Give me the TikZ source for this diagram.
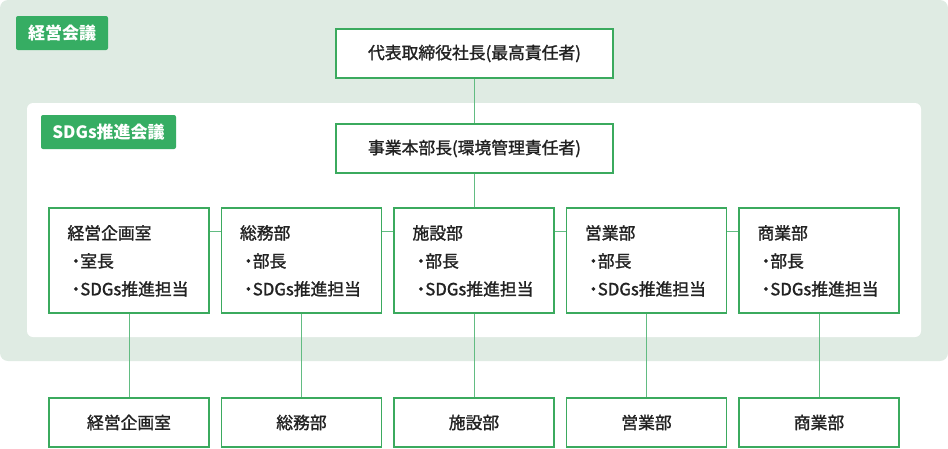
\documentclass[tikz,border=0pt]{standalone}
\usepackage{fontspec}
\setmainfont{Noto Sans CJK JP}
\newfontfamily\medfont[FakeBold=1.4]{Noto Sans CJK JP}
\usetikzlibrary{positioning}
\definecolor{bggreen}{HTML}{DFEBE3}
\definecolor{tagcolor}{HTML}{36AD63}
\definecolor{linecolor}{HTML}{3BAA5E}
\definecolor{wirecolor}{HTML}{62BC82}
\definecolor{inkcolor}{HTML}{222222}

\begin{document}
\begin{tikzpicture}[x=1pt, y=-1pt,
  tag/.style={rectangle, rounded corners=2pt, fill=tagcolor, text=white,
    font=\fontsize{17}{18}\selectfont\bfseries, minimum height=34pt, inner sep=0pt},
  box/.style={rectangle, draw=linecolor, line width=1.4pt, fill=white, text=inkcolor,
    minimum width=277pt, minimum height=49pt, inner sep=0pt,
    font=\medfont\fontsize{16.8}{18}\selectfont},
  dept/.style={box, minimum width=160pt, minimum height=105pt},
  unit/.style={box, minimum width=160pt},
  staff/.style={anchor=base west, inner sep=0pt, text=inkcolor, align=left,
    font=\medfont\fontsize{16.8}{28}\selectfont},
  wire/.style={draw=wirecolor, line width=1pt}]

  \useasboundingbox (0,0) rectangle (948,448);
  % meeting areas
  \fill[bggreen, rounded corners=8pt] (0,0) rectangle (948,361);
  \fill[white, rounded corners=6pt] (27,103) rectangle (921,337);
  \node[tag, minimum width=92pt] (board) at (62,33) {経営会議};
  \node[tag, minimum width=135pt] (sdgs) at (108.5,132) {SDGs推進会議};

  \node[box] (ceo) at (474.5,53.5) {代表取締役社長(最高責任者)};
  \node[box] (head) at (474.5,148.5) {事業本部長(環境管理責任者)};

  % departments with SDGs staff
  \node[dept] (d1) at (129,260.5) {};
  \node[dept] (d2) at (301.5,260.5) {};
  \node[dept] (d3) at (474,260.5) {};
  \node[dept] (d4) at (646.5,260.5) {};
  \node[dept] (d5) at (819,260.5) {};

  \node[staff] (t1) at ([xshift=19pt, yshift=-88pt]d1.north west)
    {経営企画室\\・\hspace{-4pt}室長\\・\hspace{-4pt}SDGs推進担当};
  \node[staff] (t2) at ([xshift=19pt, yshift=-88pt]d2.north west)
    {総務部\\・\hspace{-4pt}部長\\・\hspace{-4pt}SDGs推進担当};
  \node[staff] (t3) at ([xshift=19pt, yshift=-88pt]d3.north west)
    {施設部\\・\hspace{-4pt}部長\\・\hspace{-4pt}SDGs推進担当};
  \node[staff] (t4) at ([xshift=19pt, yshift=-88pt]d4.north west)
    {営業部\\・\hspace{-4pt}部長\\・\hspace{-4pt}SDGs推進担当};
  \node[staff] (t5) at ([xshift=19pt, yshift=-88pt]d5.north west)
    {商業部\\・\hspace{-4pt}部長\\・\hspace{-4pt}SDGs推進担当};

  % departments
  \node[unit] (u1) at (129,422.5) {経営企画室};
  \node[unit] (u2) at (301.5,422.5) {総務部};
  \node[unit] (u3) at (474,422.5) {施設部};
  \node[unit] (u4) at (646.5,422.5) {営業部};
  \node[unit] (u5) at (819,422.5) {商業部};

  \draw[wire] (ceo) -- (head);
  \draw[wire] (head.south -| d3.north) -- (d3);
  \draw[wire] ([yshift=-24pt]d1.north east) -- ([yshift=-24pt]d2.north west);
  \draw[wire] ([yshift=-24pt]d2.north east) -- ([yshift=-24pt]d3.north west);
  \draw[wire] ([yshift=-24pt]d3.north east) -- ([yshift=-24pt]d4.north west);
  \draw[wire] ([yshift=-24pt]d4.north east) -- ([yshift=-24pt]d5.north west);
  \draw[wire] (d1) -- (u1);
  \draw[wire] (d2) -- (u2);
  \draw[wire] (d3) -- (u3);
  \draw[wire] (d4) -- (u4);
  \draw[wire] (d5) -- (u5);
\end{tikzpicture}
\end{document}
